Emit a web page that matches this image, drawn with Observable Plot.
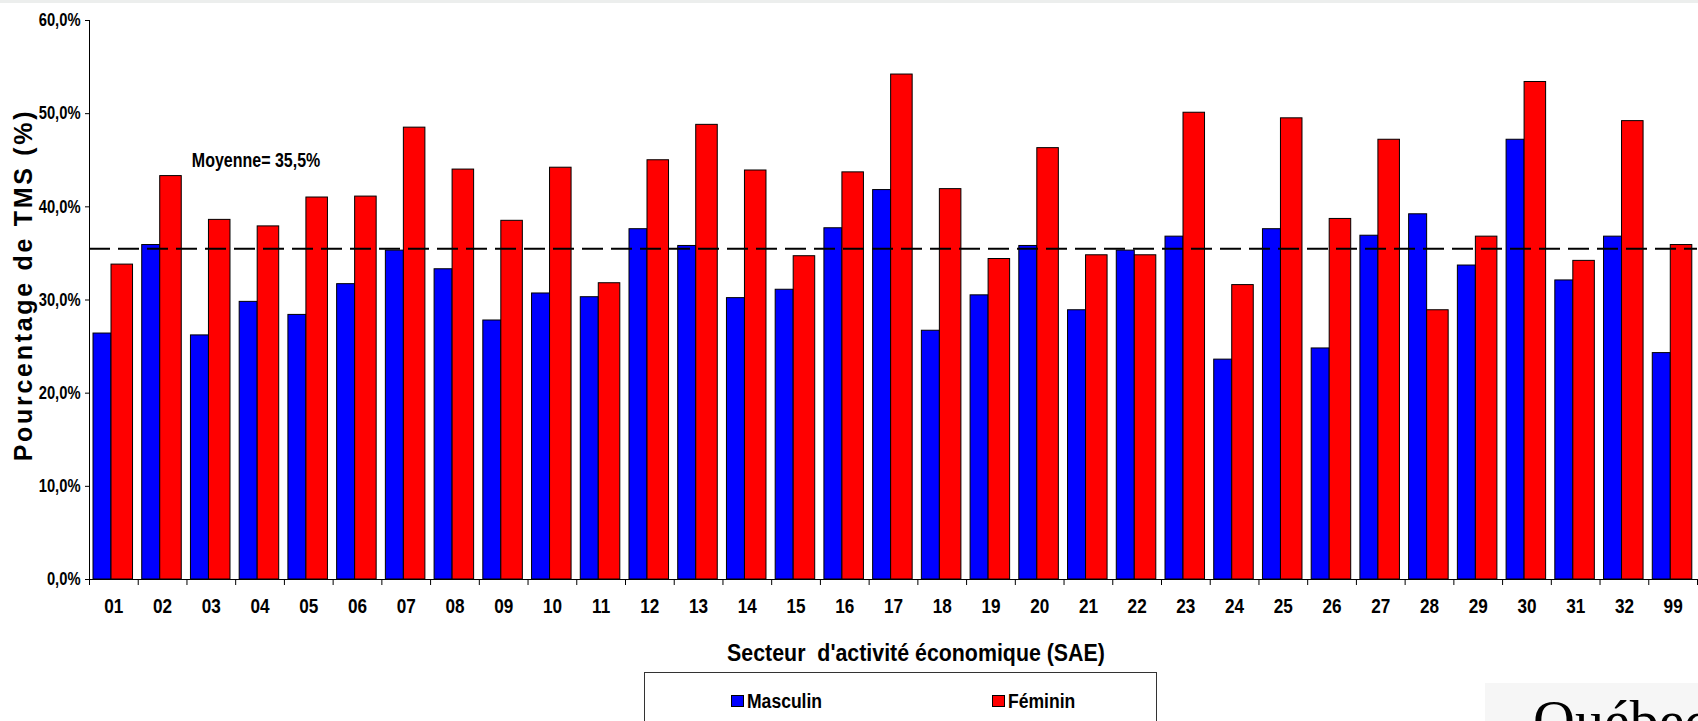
<!DOCTYPE html>
<html>
<head>
<meta charset="utf-8">
<script src="https://cdn.jsdelivr.net/npm/d3@7"></script>
<script src="https://cdn.jsdelivr.net/npm/@observablehq/plot@0.6"></script>
<style>
  html, body { margin: 0; padding: 0; background: #fff; overflow: hidden; }
  #root { position: relative; width: 1698px; height: 721px; overflow: hidden; background: #fff; }
  #topstrip { position: absolute; left: 0; top: 0; width: 1698px; height: 3px; background: #eceeed; }
  #chart { position: absolute; left: 0; top: 0; }
  #xtitle { position: absolute; left: 916px; top: 641px; transform: translateX(-50%) scaleX(0.89); white-space: pre;
            font-family: 'Liberation Sans', Arial, sans-serif; font-weight: bold; font-size: 24px; line-height: 24px; color: #000; }
  #legend { position: absolute; left: 644px; top: 672px; width: 511px; height: 80px; border: 1px solid #333; background: #fff; }
  .sw { position: absolute; top: 22px; width: 13px; height: 12px; box-sizing: border-box; border: 1px solid #000; }
  .lt { position: absolute; top: 19px; transform: scaleX(0.9); transform-origin: 0 0; font-family: 'Liberation Sans', Arial, sans-serif; font-weight: bold; font-size: 19.5px; line-height: 19.5px; color: #000; white-space: pre; }
  #logo { position: absolute; left: 1485px; top: 683px; width: 300px; height: 100px; background: #f6f6f6; }
  #logo span { position: absolute; left: 48px; top: 9px; font-family: 'Liberation Serif', 'Times New Roman', serif; font-size: 58px; line-height: 58px; color: #000; white-space: pre; }
</style>
</head>
<body>
<div id="root">
  <div id="chart"></div>
  <div id="topstrip"></div>
  <div id="xtitle"></div>
  <div id="legend"></div>
  <div id="logo"><span>Québec</span></div>
</div>
<script>
// ---- Data ----
const codes = ["01","02","03","04","05","06","07","08","09","10","11","12","13","14","15","16","17","18","19","20","21","22","23","24","25","26","27","28","29","30","31","32","99"];
const masculin = [26.4, 35.9, 26.2, 29.8, 28.4, 31.7, 35.3, 33.3, 27.8, 30.7, 30.3, 37.6, 35.8, 30.2, 31.1, 37.7, 41.8, 26.7, 30.5, 35.8, 28.9, 35.3, 36.8, 23.6, 37.6, 24.8, 36.9, 39.2, 33.7, 47.2, 32.1, 36.8, 24.3];
const feminin  = [33.8, 43.3, 38.6, 37.9, 41.0, 41.1, 48.5, 44.0, 38.5, 44.2, 31.8, 45.0, 48.8, 43.9, 34.7, 43.7, 54.2, 41.9, 34.4, 46.3, 34.8, 34.8, 50.1, 31.6, 49.5, 38.7, 47.2, 28.9, 36.8, 53.4, 34.2, 49.2, 35.9];
const seriesNames = ["Masculin", "Féminin"];
const seriesColors = ["#0000ff", "#ff0000"];
const moyenne = 35.5;
const annotation = [{code: "04", y: 45, label: "Moyenne= 35,5%"}];
const yTicks = [0, 10, 20, 30, 40, 50, 60];
const yTickLabels = ["0,0%", "10,0%", "20,0%", "30,0%", "40,0%", "50,0%", "60,0%"];
const yTitle = "Pourcentage de TMS (%)";
const xTitle = "Secteur  d'activité économique (SAE)";

// ---- Layout ----
const W = 1698, H = 625, mL = 89, mR = 1, mT = 20, mB = 46;
const bw = (W - mL - mR) / codes.length;
const sans = "'Liberation Sans', Arial, sans-serif";

const rows = codes.map((c, i) => ({code: c, masculin: masculin[i], feminin: feminin[i]}));

const chart = Plot.plot({
  width: W, height: H,
  marginLeft: mL, marginRight: mR, marginTop: mT, marginBottom: mB,
  style: {background: "transparent", fontFamily: sans, fontWeight: "bold", overflow: "visible", color: "#000"},
  x: {type: "band", domain: codes, padding: 0, round: false},
  y: {domain: [0, 60]},
  marks: [
    Plot.barY(rows, {x: "code", y: "masculin", fill: seriesColors[0], stroke: "#000", strokeWidth: 1, insetLeft: 4, insetRight: bw - 22}),
    Plot.barY(rows, {x: "code", y: "feminin", fill: seriesColors[1], stroke: "#000", strokeWidth: 1, insetLeft: 22, insetRight: 5.2}),
    Plot.ruleY([moyenne], {stroke: "#000", strokeWidth: 2.2, strokeDasharray: "21,8"}),
    Plot.ruleY([0], {stroke: "#000", strokeWidth: 1}),
    Plot.ruleX([codes[0]], {dx: -bw / 2, y1: 0, y2: 60, stroke: "#000", strokeWidth: 1}),
    Plot.axisX({ticks: codes, tickSize: 6, tickFormat: () => "", dx: -bw / 2, label: null, stroke: "#000"}),
    Plot.axisX({ticks: [codes[codes.length - 1]], tickSize: 6, tickFormat: () => "", dx: bw / 2, label: null, stroke: "#000"}),
    Plot.axisX({tickSize: 0, tickPadding: 20, label: null, fontSize: 19.5}),
    Plot.axisY({ticks: yTicks, tickFormat: d => yTickLabels[yTicks.indexOf(d)], tickSize: 4, tickPadding: 5, label: null, fontSize: 18, stroke: "#000"}),
    Plot.text(annotation, {x: "code", y: "y", text: "label", dx: -4, fontSize: 19.5}),
    Plot.text([yTitle], {frameAnchor: "left", textAnchor: "middle", rotate: -90, dx: -66, dy: -15, fontSize: 25, fontWeight: "bold"})
  ]
});

// condensed look for the chart texts, scaled about each text's anchor
d3.select(chart).selectAll("text").each(function () {
  if (this.textContent === yTitle) {
    this.style.letterSpacing = "2.7px";
    return;
  }
  const isX = this.closest('g[aria-label="x-axis tick label"]') != null;
  const t = this.getAttribute("transform");
  this.setAttribute("transform", (t ? t + " " : "") + (isX ? "scale(0.88,1)" : "scale(0.82,1)"));
});

document.getElementById("chart").appendChild(chart);
document.getElementById("xtitle").textContent = xTitle;

const legend = d3.select("#legend");
const legendPos = [86, 347];
seriesNames.forEach((name, i) => {
  legend.append("div").attr("class", "sw").style("left", legendPos[i] + "px").style("background", seriesColors[i]);
  legend.append("div").attr("class", "lt").style("left", (legendPos[i] + 16) + "px").text(name);
});
</script>
</body>
</html>
